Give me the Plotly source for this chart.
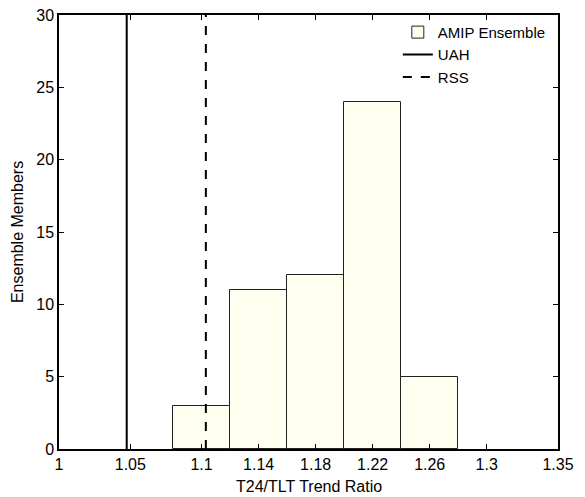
import plotly.graph_objects as go

# Data
bin_centers = [1.10, 1.14, 1.18, 1.22, 1.26]
counts = [3, 11, 12, 24, 5]
bin_width = 0.04
uah_ratio = 1.0475
rss_ratio = 1.103
x_tickvals = [1, 1.05, 1.1, 1.14, 1.18, 1.22, 1.26, 1.3, 1.35]
x_ticktext = ["1", "1.05", "1.1", "1.14", "1.18", "1.22", "1.26", "1.3", "1.35"]
y_tickvals = [0, 5, 10, 15, 20, 25, 30]

FONT = "Liberation Sans, Arial, Helvetica, sans-serif"

fig = go.Figure()
fig.add_trace(go.Bar(
    x=bin_centers, y=counts, width=bin_width,
    name="AMIP Ensemble",
    marker=dict(color="#FFFFF0", line=dict(color="#222222", width=1)),
))
fig.add_trace(go.Scatter(
    x=[uah_ratio, uah_ratio], y=[0, 30], mode="lines", name="UAH",
    line=dict(color="black", width=2),
))
fig.add_trace(go.Scatter(
    x=[rss_ratio, rss_ratio], y=[0, 30], mode="lines", name="RSS",
    line=dict(color="black", width=2, dash="dash"),
))

# page body has an 8px margin; offset the figure so the plot lands where the reference has it
fig.update_layout(
    width=569, height=489,
    margin=dict(l=51, r=19, t=7, b=48),
    paper_bgcolor="white", plot_bgcolor="white",
    font=dict(family=FONT, size=16, color="black"),
    showlegend=True,
    legend=dict(x=0.679, y=0.998, xanchor="left", yanchor="top",
                bgcolor="rgba(255,255,255,0)", borderwidth=0,
                font=dict(size=15), tracegroupgap=0),
    bargap=0,
    annotations=[
        dict(text="T24/TLT Trend Ratio", xref="paper", yref="paper",
             x=0.5, y=-0.0853, yanchor="middle", xanchor="center",
             showarrow=False, font=dict(size=16)),
        dict(text="Ensemble Members", xref="paper", yref="paper",
             x=-0.084, y=0.5, textangle=-90, xanchor="center", yanchor="middle",
             showarrow=False, font=dict(size=16)),
    ],
)
fig.update_xaxes(
    range=[1, 1.35], tickvals=x_tickvals, ticktext=x_ticktext,
    ticks="inside", ticklen=5, tickcolor="black",
    showline=True, linecolor="black", linewidth=1.5, mirror="ticks",
    showgrid=False, zeroline=False, automargin=False,
    ticklabeloverflow="allow",
)
fig.update_yaxes(
    range=[0, 30], tickvals=y_tickvals,
    ticks="inside", ticklen=5, tickcolor="black",
    showline=True, linecolor="black", linewidth=1.5, mirror="ticks",
    showgrid=False, zeroline=False, automargin=False,
    ticklabeloverflow="allow",
)

fig.write_html("out.html")
